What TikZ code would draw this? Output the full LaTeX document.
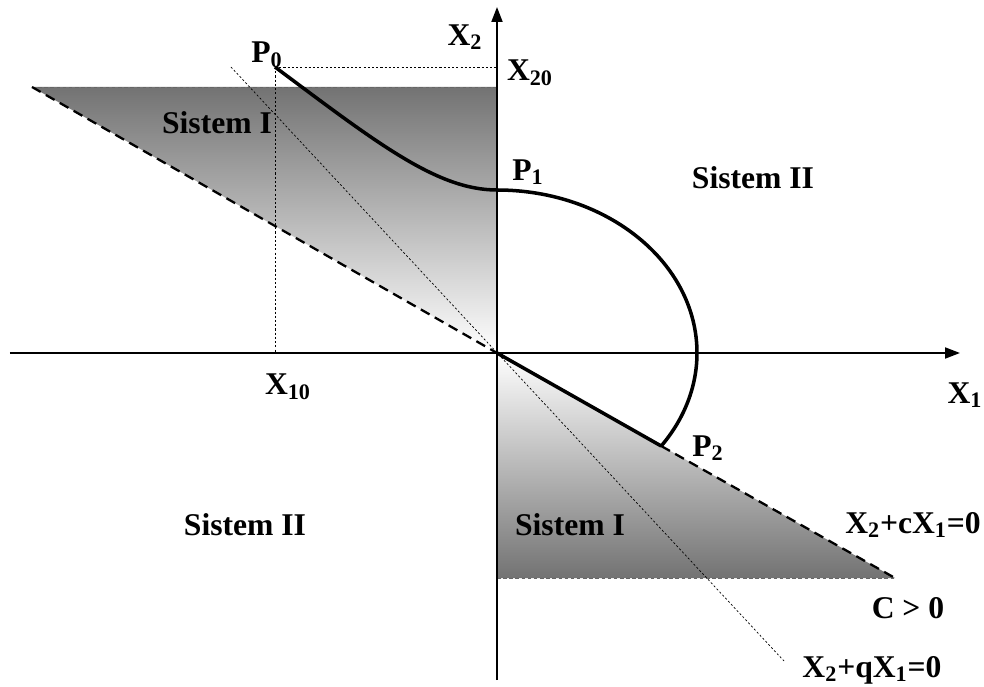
\documentclass[tikz,border=0pt]{standalone}
\usepackage{fontspec}
\setmainfont{Liberation Serif}
\usetikzlibrary{arrows.meta,calc}

\begin{document}
\begin{tikzpicture}[x=2cm, y=2cm,
  lbl/.style={font=\fontsize{18}{20}\selectfont\bfseries, inner sep=0pt},
  axis/.style={line width=1.1pt, -{Triangle[length=0.3cm, width=0.22cm]}},
  traj/.style={line width=2pt},
  bound/.style={line width=1.3pt, dash pattern=on 0.2cm off 0.12cm},
  guide/.style={line width=0.4pt, dash pattern=on 1.2pt off 1.2pt},
  edge/.style={line width=0.5pt, black!60, dash pattern=on 2pt off 1.5pt}
]
\useasboundingbox (-4.97,-3.34) rectangle (4.87,3.53);

\coordinate (O)  at (0,0);
\coordinate (A)  at (-4.65,2.66);
\coordinate (B)  at (0,2.66);
\coordinate (C)  at (3.98,-2.25);
\coordinate (D)  at (0,-2.25);
\coordinate (P0) at (-2.22,2.86);
\coordinate (P1) at (0,1.63);
\coordinate (P2) at (-34.8:2 and 1.63);
\coordinate (X20) at (0,2.86);
\coordinate (X10) at (-2.22,0);
\coordinate (Q1) at (-2.66,2.86);
\coordinate (Q2) at (2.87,-3.08);

% shaded regions (Sistem I)
\shade[top color=black!55, bottom color=white] (A) -- (B) -- (O) -- cycle;
\shade[top color=white, bottom color=black!55] (O) -- (C) -- (D) -- cycle;
\draw[edge] (A) -- (B);
\draw[edge] (D) -- (C);

% guide lines
\draw[guide] (P0) -- (X20);
\draw[guide] (P0) -- (X10);
\draw[guide] (Q1) -- (Q2);

% axes
\draw[axis] (-4.87,0) -- (4.63,0);
\draw[axis] (0,-3.27) -- (0,3.46);

% switching lines
\draw[bound] (A) -- (O);
\draw[bound] (P2) -- (C);

% trajectory
\draw[traj] (P0) .. controls (-1.2,2.1) and (-0.6,1.63) .. (P1);
\draw[traj] (P1) arc[start angle=90, end angle=-34.8, x radius=2, y radius=1.63];
\draw[traj] (P2) -- (O);

% labels
\node[lbl] (lx2)  at (-0.32,3.16) {X\textsubscript{2}};
\node[lbl] (lp0)  at (-2.30,2.98) {P\textsubscript{0}};
\node[lbl] (lx20) at (0.33,2.80)  {X\textsubscript{20}};
\node[lbl] (s1a)  at (-2.80,2.30) {Sistem I};
\node[lbl] (lp1)  at (0.31,1.81)  {P\textsubscript{1}};
\node[lbl] (s2a)  at (2.56,1.75)  {Sistem II};
\node[lbl] (lx10) at (-2.09,-0.34) {X\textsubscript{10}};
\node[lbl] (lx1)  at (4.68,-0.42) {X\textsubscript{1}};
\node[lbl] (lp2)  at (2.11,-0.95) {P\textsubscript{2}};
\node[lbl] (s2b)  at (-2.52,-1.72) {Sistem II};
\node[lbl] (s1b)  at (0.73,-1.72) {Sistem I};
\node[lbl] (lc)   at (4.16,-1.72) {X\textsubscript{2}+cX\textsubscript{1}=0};
\node[lbl] (lcc)  at (4.11,-2.55) {C > 0};
\node[lbl] (lq)   at (3.75,-3.17) {X\textsubscript{2}+qX\textsubscript{1}=0};
\end{tikzpicture}
\end{document}
